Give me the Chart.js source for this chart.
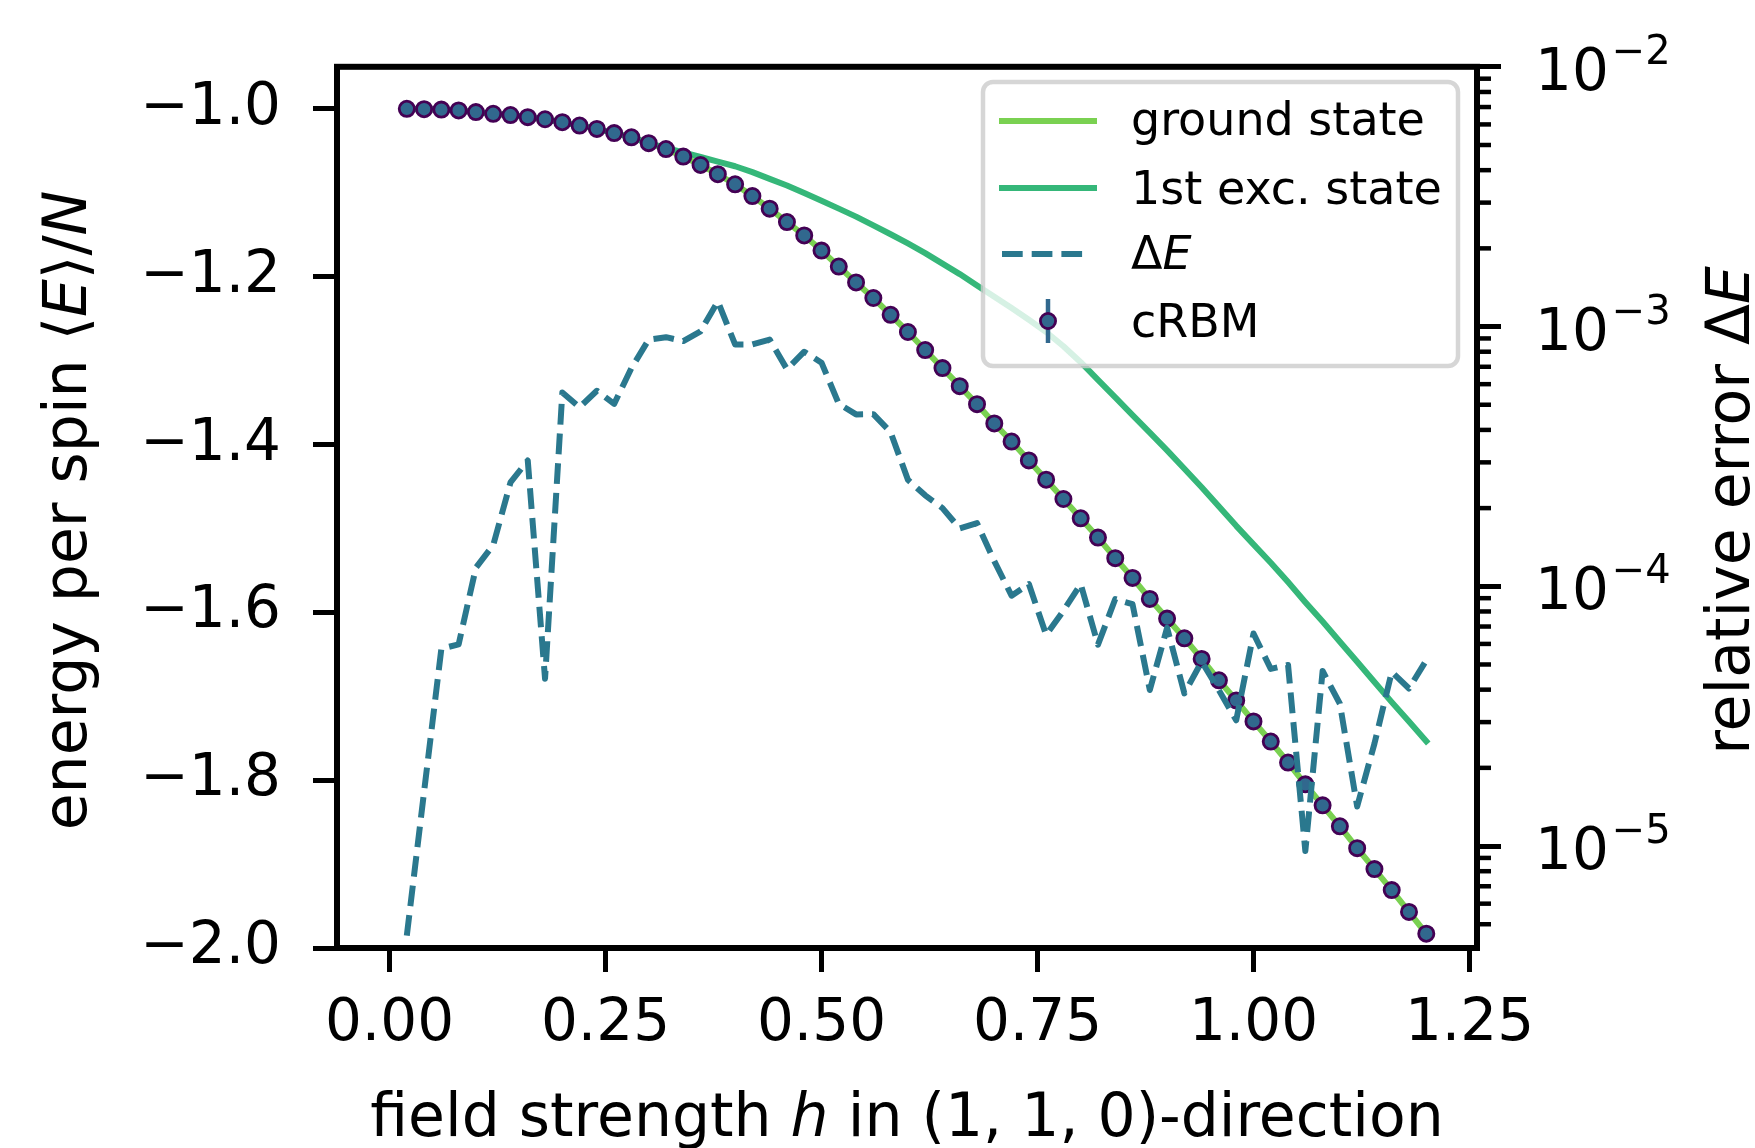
<!DOCTYPE html>
<html>
<head>
<meta charset="utf-8">
<script src="https://cdn.jsdelivr.net/npm/chart.js@4.4.1/dist/chart.umd.min.js"></script>
<style>
  html, body { margin: 0; padding: 0; background: #ffffff; }
  #wrap { width: 1755px; height: 1148px; }
</style>
</head>
<body>
<div id="wrap"><canvas id="chart" width="1755" height="1148"></canvas></div>
<script>
// ── Données ────────────────────────────────────────────────
const fieldH = [
  0.02, 0.04, 0.06, 0.08, 0.10, 0.12, 0.14, 0.16, 0.18, 0.20,
  0.22, 0.24, 0.26, 0.28, 0.30, 0.32, 0.34, 0.36, 0.38, 0.40,
  0.42, 0.44, 0.46, 0.48, 0.50, 0.52, 0.54, 0.56, 0.58, 0.60,
  0.62, 0.64, 0.66, 0.68, 0.70, 0.72, 0.74, 0.76, 0.78, 0.80,
  0.82, 0.84, 0.86, 0.88, 0.90, 0.92, 0.94, 0.96, 0.98, 1.00,
  1.02, 1.04, 1.06, 1.08, 1.10, 1.12, 1.14, 1.16, 1.18, 1.20
];
const groundState = [
  -1.000, -1.0005, -1.001, -1.002, -1.004, -1.006, -1.0075, -1.010, -1.0125, -1.016,
  -1.020, -1.024, -1.029, -1.034, -1.041, -1.048, -1.057, -1.067, -1.078, -1.090,
  -1.104, -1.119, -1.135, -1.151, -1.169, -1.188, -1.207, -1.2255, -1.2455, -1.266,
  -1.2875, -1.309, -1.3305, -1.352, -1.375, -1.3965, -1.419, -1.442, -1.465, -1.488,
  -1.511, -1.5355, -1.559, -1.584, -1.6075, -1.631, -1.6555, -1.681, -1.705, -1.730,
  -1.754, -1.779, -1.805, -1.830, -1.855, -1.881, -1.906, -1.931, -1.957, -1.983
];
const firstExcited = [
  -1.000, -1.0005, -1.001, -1.002, -1.004, -1.006, -1.0075, -1.010, -1.0125, -1.016,
  -1.020, -1.024, -1.029, -1.034, -1.041, -1.0465, -1.052, -1.0575, -1.063, -1.0685,
  -1.0755, -1.0835, -1.0915, -1.1005, -1.1095, -1.119, -1.1285, -1.139, -1.1495, -1.1605,
  -1.172, -1.1845, -1.197, -1.2105, -1.224, -1.2375, -1.2515, -1.266, -1.283, -1.302,
  -1.323, -1.344, -1.365, -1.386, -1.407, -1.429, -1.451, -1.474, -1.497, -1.519,
  -1.541, -1.564, -1.588, -1.611, -1.635, -1.659, -1.683, -1.707, -1.730, -1.7536
];
const cRBMEnergy = [
  -1.000, -1.0005, -1.001, -1.002, -1.004, -1.006, -1.0075, -1.010, -1.0125, -1.016,
  -1.020, -1.024, -1.029, -1.034, -1.041, -1.048, -1.057, -1.067, -1.078, -1.090,
  -1.104, -1.119, -1.135, -1.151, -1.169, -1.188, -1.207, -1.2255, -1.2455, -1.266,
  -1.2875, -1.309, -1.3305, -1.352, -1.375, -1.3965, -1.419, -1.442, -1.465, -1.488,
  -1.511, -1.5355, -1.559, -1.584, -1.6075, -1.631, -1.6555, -1.681, -1.705, -1.730,
  -1.754, -1.779, -1.805, -1.830, -1.855, -1.881, -1.906, -1.931, -1.957, -1.983
];
const relError = [
  4.52e-6, 1.62e-5, 5.75e-5, 5.98e-5, 1.18e-4, 1.44e-4, 2.51e-4, 3.05e-4, 4.41e-5, 5.57e-4,
  4.89e-4, 5.66e-4, 5.04e-4, 6.92e-4, 8.91e-4, 9.10e-4, 8.79e-4, 9.59e-4, 1.25e-3, 8.53e-4,
  8.53e-4, 8.91e-4, 6.85e-4, 8.00e-4, 7.26e-4, 5.04e-4, 4.59e-4, 4.60e-4, 3.92e-4, 2.57e-4,
  2.24e-4, 2.00e-4, 1.67e-4, 1.75e-4, 1.25e-4, 9.20e-5, 1.02e-4, 6.50e-5, 8.05e-5, 1.02e-4,
  5.96e-5, 8.93e-5, 8.53e-5, 3.99e-5, 6.92e-5, 3.87e-5, 5.13e-5, 3.98e-5, 3.05e-5, 6.58e-5,
  4.81e-5, 4.98e-5, 9.57e-6, 4.72e-5, 3.53e-5, 1.42e-5, 2.48e-5, 4.68e-5, 4.04e-5, 5.19e-5
];
const xTickValues = [0.00, 0.25, 0.50, 0.75, 1.00, 1.25];
const yTickValues = [-2.0, -1.8, -1.6, -1.4, -1.2, -1.0];
const errTickExps = [-5, -4, -3, -2];

// ── Couleurs (viridis) ──────────────────────────────────────
const C_GROUND = '#7ad151';
const C_EXC = '#35b779';
const C_DELTA = '#2a788e';
const C_DOT = '#31688e';
const C_DOT_EDGE = '#440154';
const FAMILY = '"DejaVu Sans", sans-serif';
const LW = 6;          // épaisseur des courbes
const DOT_R = 7.6;     // rayon des marqueurs
const DOT_BW = 2.8;

const pts = (ys) => fieldH.map((h, i) => ({ x: h, y: ys[i] }));
const minus = (s) => s.replace('-', '\u2212');

// ── Helpers texte (italiques façon mathtext) ────────────────
function fontOf(r, size) {
  return (r.it ? 'italic ' : '') + size + 'px ' + FAMILY;
}
function drawRuns(ctx, runs, x, y, size, align) {
  let w = 0;
  runs.forEach(r => { ctx.font = fontOf(r, size); r.w = ctx.measureText(r.t).width; w += r.w; });
  let cx = align === 'center' ? x - w / 2 : x;
  ctx.textAlign = 'left';
  ctx.textBaseline = 'alphabetic';
  runs.forEach(r => { ctx.font = fontOf(r, size); ctx.fillText(r.t, cx, y); cx += r.w; });
}

// ── Décor : cadre, légende, ticks mineurs, titres ───────────
const decor = {
  id: 'decor',
  afterDatasetsDraw(chart) {
    const ctx = chart.ctx;
    const a = chart.chartArea;
    const y2 = chart.scales.y2;
    ctx.save();

    // ticks mineurs de l'axe log
    ctx.strokeStyle = '#000';
    ctx.lineWidth = 4.5;
    for (let e = -6; e <= -2; e++) {
      for (let k = 2; k <= 9; k++) {
        const v = k * Math.pow(10, e);
        if (v < y2.min || v > y2.max) continue;
        const py = y2.getPixelForValue(v);
        ctx.beginPath();
        ctx.moveTo(a.right, py);
        ctx.lineTo(a.right + 14, py);
        ctx.stroke();
      }
    }

    // légende
    const L = { x0: 983, y0: 82, x1: 1458, y1: 366 };
    ctx.beginPath();
    ctx.roundRect(L.x0, L.y0, L.x1 - L.x0, L.y1 - L.y0, 10);
    ctx.fillStyle = 'rgba(255,255,255,0.8)';
    ctx.fill();
    ctx.lineWidth = 4.5;
    ctx.strokeStyle = 'rgba(204,204,204,0.8)';
    ctx.stroke();

    const rows = [121, 188, 254, 321];
    const hx0 = 999, hx1 = 1097, tx = 1131;
    ctx.lineWidth = LW;
    ctx.lineCap = 'square';
    ctx.strokeStyle = C_GROUND;
    ctx.beginPath(); ctx.moveTo(hx0 + 3, rows[0]); ctx.lineTo(hx1 - 3, rows[0]); ctx.stroke();
    ctx.strokeStyle = C_EXC;
    ctx.beginPath(); ctx.moveTo(hx0 + 3, rows[1]); ctx.lineTo(hx1 - 3, rows[1]); ctx.stroke();
    ctx.lineCap = 'butt';
    ctx.setLineDash([20.7, 9]);
    ctx.strokeStyle = C_DELTA;
    ctx.beginPath(); ctx.moveTo(hx0 + 3, rows[2]); ctx.lineTo(hx1 - 8, rows[2]); ctx.stroke();
    ctx.setLineDash([]);
    const mx = (hx0 + hx1) / 2;
    ctx.strokeStyle = C_DOT;
    ctx.lineWidth = 4.5;
    ctx.beginPath(); ctx.moveTo(mx, rows[3] - 22); ctx.lineTo(mx, rows[3] + 22); ctx.stroke();
    ctx.beginPath(); ctx.arc(mx, rows[3], DOT_R, 0, Math.PI * 2);
    ctx.fillStyle = C_DOT; ctx.fill();
    ctx.lineWidth = DOT_BW; ctx.strokeStyle = C_DOT_EDGE; ctx.stroke();

    ctx.fillStyle = '#000';
    drawRuns(ctx, [{ t: 'ground state' }], tx, rows[0] + 14, 46, 'left');
    drawRuns(ctx, [{ t: '1st exc. state' }], tx, rows[1] + 16, 46, 'left');
    drawRuns(ctx, [{ t: '\u0394' }, { t: 'E', it: true }], tx, rows[2] + 15, 46, 'left');
    drawRuns(ctx, [{ t: 'cRBM' }], tx, rows[3] + 16, 46, 'left');

    // cadre (spines)
    ctx.lineWidth = 6;
    ctx.strokeStyle = '#000';
    ctx.strokeRect(a.left, a.top, a.right - a.left, a.bottom - a.top);
    ctx.restore();
  },
  afterDraw(chart) {
    const ctx = chart.ctx;
    const a = chart.chartArea;
    const y2 = chart.scales.y2;
    ctx.save();
    ctx.fillStyle = '#000';

    // étiquettes 10^n de l'axe droit
    errTickExps.forEach(e => {
      const py = y2.getPixelForValue(Math.pow(10, e));
      const bx = 1535, by = py + 23;
      ctx.font = '58px ' + FAMILY;
      ctx.textAlign = 'left';
      ctx.textBaseline = 'alphabetic';
      ctx.fillText('10', bx, by);
      const w = ctx.measureText('10').width;
      ctx.font = '40px ' + FAMILY;
      ctx.fillText('\u2212' + Math.abs(e), bx + w + 3, by - 26);
    });

    // titre axe x
    drawRuns(ctx, [
      { t: 'field strength ' }, { t: 'h', it: true }, { t: ' in (1, 1, 0)-direction' }
    ], (a.left + a.right) / 2, 1136, 60, 'center');

    // titre axe gauche
    ctx.save();
    ctx.translate(86, (a.top + a.bottom) / 2 + 3);
    ctx.rotate(-Math.PI / 2);
    drawRuns(ctx, [
      { t: 'energy per spin \u27E8' }, { t: 'E', it: true }, { t: '\u27E9/' }, { t: 'N', it: true }
    ], 0, 0, 60, 'center');
    ctx.restore();

    // titre axe droit
    ctx.save();
    ctx.translate(1749, (a.top + a.bottom) / 2 + 3);
    ctx.rotate(-Math.PI / 2);
    drawRuns(ctx, [{ t: 'relative error \u0394' }, { t: 'E', it: true }], 0, 0, 60, 'center');
    ctx.restore();

    ctx.restore();
  }
};

// ── Graphique ───────────────────────────────────────────────
const tickGrid = { drawOnChartArea: false, drawTicks: true, tickLength: 24, tickWidth: 5, tickColor: '#000' };
const tickFont = { family: FAMILY, size: 58 };

new Chart(document.getElementById('chart'), {
  type: 'line',
  data: {
    datasets: [
      {
        label: 'ground state',
        data: pts(groundState),
        yAxisID: 'y',
        borderColor: C_GROUND,
        borderWidth: LW,
        borderCapStyle: 'square',
        borderJoinStyle: 'round',
        pointRadius: 0,
        order: 3
      },
      {
        label: '1st exc. state',
        data: pts(firstExcited),
        yAxisID: 'y',
        borderColor: C_EXC,
        borderWidth: LW,
        borderCapStyle: 'square',
        borderJoinStyle: 'round',
        pointRadius: 0,
        order: 2
      },
      {
        label: 'cRBM',
        data: pts(cRBMEnergy),
        yAxisID: 'y',
        showLine: false,
        pointRadius: DOT_R,
        pointBorderWidth: DOT_BW,
        pointBackgroundColor: C_DOT,
        pointBorderColor: C_DOT_EDGE,
        order: 1
      },
      {
        label: '\u0394E',
        data: pts(relError),
        yAxisID: 'y2',
        borderColor: C_DELTA,
        borderWidth: LW,
        borderDash: [20.7, 9],
        borderCapStyle: 'butt',
        borderJoinStyle: 'round',
        pointRadius: 0,
        order: 0
      }
    ]
  },
  options: {
    responsive: false,
    animation: false,
    devicePixelRatio: 1,
    events: [],
    layout: { padding: { top: 62, left: 0, right: 0, bottom: 0 }, autoPadding: false },
    plugins: { legend: { display: false }, tooltip: { enabled: false } },
    scales: {
      x: {
        type: 'linear',
        position: 'bottom',
        bounds: 'data',
        min: -0.0608,
        max: 1.2587,
        grid: tickGrid,
        border: { display: false },
        afterBuildTicks: (s) => { s.ticks = xTickValues.map(v => ({ value: v })); },
        afterFit: (s) => { s.height = 200; },
        ticks: {
          font: tickFont, color: '#000', padding: 18, maxRotation: 0, autoSkip: false,
          callback: (v) => Number(v).toFixed(2)
        }
      },
      y: {
        type: 'linear',
        position: 'left',
        bounds: 'data',
        min: -2.0,
        max: -0.95,
        grid: tickGrid,
        border: { display: false },
        afterBuildTicks: (s) => { s.ticks = yTickValues.map(v => ({ value: v })); },
        afterFit: (s) => { s.width = 337; },
        ticks: {
          font: tickFont, color: '#000', padding: 32, autoSkip: false,
          callback: (v) => minus(Number(v).toFixed(1))
        }
      },
      y2: {
        type: 'logarithmic',
        position: 'right',
        bounds: 'data',
        min: 4.05e-6,
        max: 1e-2,
        grid: tickGrid,
        border: { display: false },
        afterBuildTicks: (s) => { s.ticks = errTickExps.map(e => ({ value: Math.pow(10, e) })); },
        afterFit: (s) => { s.width = 278; },
        ticks: { font: tickFont, color: '#000', autoSkip: false, callback: () => '' }
      }
    }
  },
  plugins: [decor]
});
</script>
</body>
</html>
